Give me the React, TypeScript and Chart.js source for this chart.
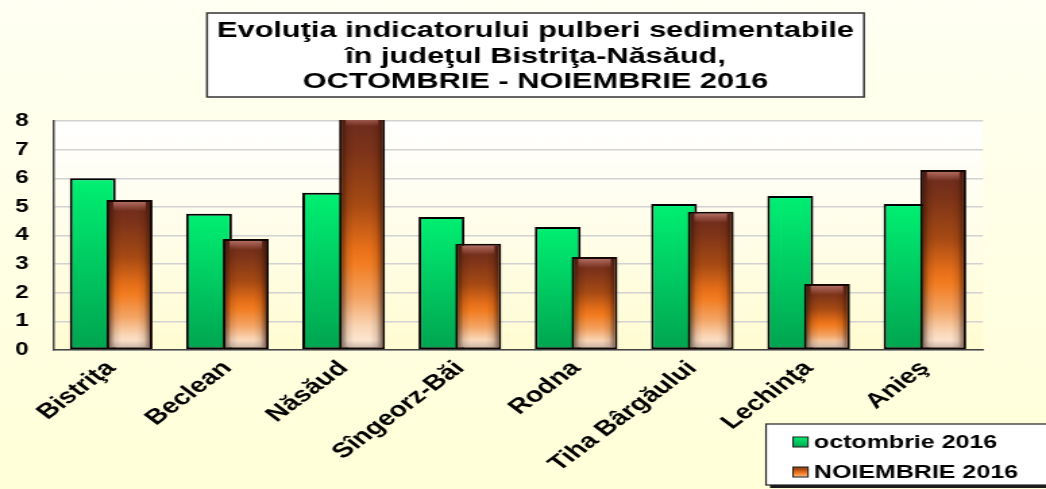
import React, { useEffect, useRef } from 'react';
import { Chart, registerables } from 'chart.js';

Chart.register(...registerables);

// ---------- data ----------
const categories = ['Bistriţa', 'Beclean', 'Năsăud', 'Sîngeorz-Băi', 'Rodna', 'Tiha Bârgăului', 'Lechinţa', 'Anieş'];
const octombrie2016 = [6.0, 4.76, 5.49, 4.65, 4.3, 5.1, 5.38, 5.1];
const noiembrie2016 = [5.24, 3.88, 8.2, 3.71, 3.25, 4.83, 2.31, 6.29];
const yTickValues = [0, 1, 2, 3, 4, 5, 6, 7, 8];
const seriesLabels = ['octombrie 2016', 'NOIEMBRIE 2016'];
const titleLines = [
  'Evoluţia indicatorului pulberi sedimentabile',
  'în judeţul Bistriţa-Năsăud,',
  'OCTOMBRIE - NOIEMBRIE 2016',
];

// ---------- layout ----------
const OUT_W = 1046;
const OUT_H = 489;
const NW = 775; // native drawing width, stretched horizontally to OUT_W
const SX = OUT_W / NW;
const FONT = "'Liberation Sans', Arial, Helvetica, sans-serif";

function novFill(ctx: CanvasRenderingContext2D, top: number, bottom: number) {
  const g = ctx.createLinearGradient(0, top, 0, bottom);
  g.addColorStop(0, '#6A2A1F');
  g.addColorStop(0.15, '#7C3319');
  g.addColorStop(0.38, '#A64A14');
  g.addColorStop(0.56, '#E56E19');
  g.addColorStop(0.63, '#F27C20');
  g.addColorStop(0.78, '#F4A464');
  g.addColorStop(0.9, '#FAD6B6');
  g.addColorStop(1, '#FFF0E2');
  return g;
}

function octFill(ctx: CanvasRenderingContext2D, top: number, bottom: number) {
  const g = ctx.createLinearGradient(0, top, 0, bottom);
  g.addColorStop(0, '#00F072');
  g.addColorStop(1, '#00A450');
  return g;
}

const decorPlugin = {
  id: 'decor',
  beforeDraw(chart: any) {
    const { ctx, width, height, chartArea: a } = chart;
    ctx.save();
    let g = ctx.createLinearGradient(0, 0, 0, height);
    g.addColorStop(0, '#FFFFF3');
    g.addColorStop(1, '#FFFFD8');
    ctx.fillStyle = g;
    ctx.fillRect(0, 0, width, height);
    g = ctx.createLinearGradient(0, a.top, 0, a.bottom);
    g.addColorStop(0, '#FFFFFF');
    g.addColorStop(1, '#FFFCD2');
    ctx.fillStyle = g;
    ctx.fillRect(a.left, a.top, a.right - a.left, a.bottom - a.top);
    ctx.restore();
  },
  beforeDatasetsDraw(chart: any) {
    const { ctx, chartArea: a } = chart;
    ctx.save();
    ctx.beginPath();
    ctx.rect(a.left, a.top - 1, a.right - a.left, a.bottom - a.top + 2);
    ctx.clip();
    // October first, November drawn over it
    chart.getDatasetMeta(0).controller.draw();
    chart.getDatasetMeta(1).controller.draw();
    // 3D shading on November bars
    const meta = chart.getDatasetMeta(1);
    meta.data.forEach((bar: any) => {
      const { x, y, base, width } = bar.getProps(['x', 'y', 'base', 'width'], true);
      const bw = 2;
      const l = x - width / 2 + bw;
      const r = x + width / 2 - bw;
      const t = y + bw;
      const b = base - bw;
      const h = ctx.createLinearGradient(l, 0, r, 0);
      h.addColorStop(0, 'rgba(40,10,0,0.55)');
      h.addColorStop(0.14, 'rgba(40,10,0,0.12)');
      h.addColorStop(0.3, 'rgba(40,10,0,0)');
      h.addColorStop(0.7, 'rgba(40,10,0,0)');
      h.addColorStop(0.86, 'rgba(40,10,0,0.12)');
      h.addColorStop(1, 'rgba(40,10,0,0.55)');
      ctx.fillStyle = h;
      ctx.fillRect(l, t, r - l, b - t);
      const tb = ctx.createLinearGradient(0, t, 0, t + 9);
      tb.addColorStop(0, 'rgba(235,160,150,0.55)');
      tb.addColorStop(1, 'rgba(235,160,150,0)');
      ctx.fillStyle = tb;
      ctx.fillRect(l + 3, t, r - l - 6, 9);
      const bb = ctx.createLinearGradient(0, b - 7, 0, b);
      bb.addColorStop(0, 'rgba(120,90,80,0)');
      bb.addColorStop(1, 'rgba(120,90,80,0.35)');
      ctx.fillStyle = bb;
      ctx.fillRect(l, b - 7, r - l, 7);
    });
    ctx.restore();
    return false;
  },
  afterDraw(chart: any) {
    const { ctx } = chart;
    ctx.save();
    // title box (reference x 207..864, y 13..97)
    const tx = 207 / SX, ty = 13, tw = (864 - 207) / SX, th = 84;
    ctx.fillStyle = '#FFFFFF';
    ctx.fillRect(tx, ty, tw, th);
    ctx.strokeStyle = '#333333';
    ctx.lineWidth = 1.5;
    ctx.strokeRect(tx, ty, tw, th);
    ctx.fillStyle = '#000000';
    ctx.font = `bold 21.5px ${FONT}`;
    ctx.textAlign = 'center';
    ctx.textBaseline = 'middle';
    const lineYs = [31, 57, 82];
    const firstW = ctx.measureText(titleLines[0]).width;
    const fit = (637 / SX) / firstW;
    titleLines.forEach((line, i) => {
      ctx.save();
      ctx.translate(tx + tw / 2, lineYs[i]);
      ctx.scale(fit, 1);
      ctx.fillText(line, 0, 0);
      ctx.restore();
    });

    // legend box (reference left 766, top 424)
    const lx = 766 / SX, ly = 424, lw = 260, lh = 61;
    ctx.fillStyle = '#1A1A1A';
    ctx.fillRect(lx + 3, ly + 3, lw, lh);
    ctx.fillStyle = '#FFFFFF';
    ctx.fillRect(lx, ly, lw, lh);
    ctx.strokeStyle = '#222222';
    ctx.lineWidth = 1.2;
    ctx.strokeRect(lx, ly, lw, lh);
    const rows = [442, 472];
    seriesLabels.forEach((label, i) => {
      const cy = rows[i];
      const sx = 793 / SX, sw = 15 / SX, sh = 10, sy = cy - 5;
      ctx.fillStyle = i === 0 ? octFill(ctx, sy, sy + sh) : novFill(ctx, sy - 4, sy + sh + 2);
      ctx.fillRect(sx, sy, sw, sh);
      ctx.strokeStyle = '#1A1A1A';
      ctx.lineWidth = 1;
      ctx.strokeRect(sx, sy, sw, sh);
      ctx.fillStyle = '#000000';
      ctx.font = `bold 18.5px ${FONT}`;
      ctx.textAlign = 'left';
      ctx.textBaseline = 'middle';
      ctx.fillText(label, 814 / SX, cy + 1);
    });
    ctx.restore();
  },
};

export default function App() {
  const ref = useRef<HTMLCanvasElement>(null);

  useEffect(() => {
    const canvas = ref.current;
    if (!canvas) return;
    const chart = new Chart(canvas, {
      type: 'bar',
      data: {
        labels: categories,
        datasets: [
          {
            label: seriesLabels[0],
            data: octombrie2016,
            backgroundColor: (c: any) => {
              const ys = c.chart.scales.y;
              if (!ys || !c.chart.chartArea) return '#00CC60';
              return octFill(c.chart.ctx, ys.getPixelForValue(c.raw ?? 0), ys.getPixelForValue(0));
            },
            borderColor: '#000000',
            borderWidth: 2,
            borderSkipped: false,
          },
          {
            label: seriesLabels[1],
            data: noiembrie2016,
            backgroundColor: (c: any) => {
              const ys = c.chart.scales.y;
              if (!ys || !c.chart.chartArea) return '#E07020';
              return novFill(c.chart.ctx, ys.getPixelForValue(c.raw ?? 0), ys.getPixelForValue(0));
            },
            borderColor: '#120500',
            borderWidth: 2,
            borderSkipped: false,
          },
        ],
      },
      options: {
        responsive: false,
        maintainAspectRatio: false,
        animation: false,
        devicePixelRatio: 1,
        categoryPercentage: 0.632,
        barPercentage: 1.25,
        layout: { padding: { top: 121, right: NW - 983 / SX, bottom: 0, left: 0 } },
        plugins: {
          legend: { display: false },
          title: { display: false },
          tooltip: { enabled: false },
        },
        scales: {
          x: {
            grid: { display: false, drawTicks: false },
            border: { display: true, color: '#444444', width: 1.5 },
            ticks: {
              color: '#000000',
              font: { family: FONT, size: 21, weight: 'bold' },
              minRotation: 45,
              maxRotation: 45,
              autoSkip: false,
              padding: 6,
            },
            afterFit: (s: any) => {
              s.height = OUT_H - 350;
            },
          },
          y: {
            min: 0,
            max: 8,
            afterBuildTicks: (s: any) => {
              s.ticks = yTickValues.map((v) => ({ value: v }));
            },
            grid: { color: '#D2D2D2', lineWidth: 1.5, drawTicks: false },
            border: { display: true, color: '#444444', width: 1.5 },
            ticks: {
              color: '#000000',
              font: { family: FONT, size: 18, weight: 'bold' },
              padding: 18,
            },
            afterFit: (s: any) => {
              s.width = 53 / SX;
            },
          },
        },
      },
      plugins: [decorPlugin],
    } as any);
    return () => chart.destroy();
  }, []);

  return (
    <div
      style={{
        position: 'fixed',
        left: 0,
        top: 0,
        width: OUT_W,
        height: OUT_H,
        overflow: 'hidden',
        background: '#FFFFEC',
      }}
    >
      <div style={{ width: NW, height: OUT_H, transform: `scaleX(${SX})`, transformOrigin: '0 0' }}>
        <canvas ref={ref} width={NW} height={OUT_H} style={{ display: 'block', width: NW, height: OUT_H }} />
      </div>
    </div>
  );
}
